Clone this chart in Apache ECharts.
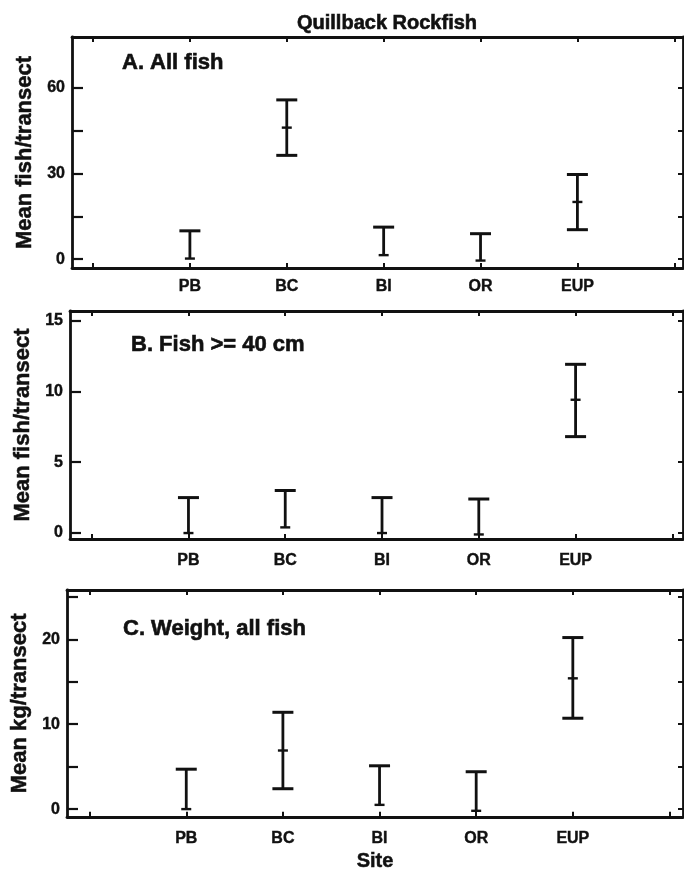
<!DOCTYPE html>
<html>
<head>
<meta charset="utf-8">
<script src="https://cdn.jsdelivr.net/npm/echarts@6/dist/echarts.min.js"></script>
<style>
  html, body { margin: 0; padding: 0; background: #fff; }
  #chart { width: 684px; height: 873px; }
</style>
</head>
<body>
<div id="chart"></div>
<script>
// sites along the x axis (positions 1..5)
const sites = ['PB', 'BC', 'BI', 'OR', 'EUP']

// A. All fish (mean fish/transect)
const allMean = [0.2, 46, 1.4, -0.5, 20]
const allLow = [0.2, 36.3, 1.4, -0.5, 10.3]
const allHigh = [9.9, 55.7, 11.2, 8.9, 29.6]

// B. Fish >= 40 cm (mean fish/transect)
const bigMean = [0, 0.4, 0, -0.1, 9.4]
const bigLow = [0, 0.4, 0, -0.1, 6.8]
const bigHigh = [2.5, 3.0, 2.5, 2.4, 11.9]

// C. Weight, all fish (mean kg/transect)
const wtMean = [0, 6.9, 0.5, -0.2, 15.4]
const wtLow = [0, 2.4, 0.5, -0.2, 10.7]
const wtHigh = [4.7, 11.4, 5.1, 4.4, 20.2]

// axis ticks / labels
const xTicks = [0, 1, 2, 3, 4, 5, 6]
const xLabels = [1, 2, 3, 4, 5]
const aTicks = [0, 15, 30, 45, 60]
const aLabels = [0, 30, 60]
const bTicks = [0, 5, 10, 15]
const bLabels = [0, 5, 10, 15]
const cTicks = [0, 5, 10, 15, 20, 25]
const cLabels = [0, 10, 20]

const FONT = 'Liberation Sans, Arial, sans-serif'
const INK = '#111'

function errorRender (params, api) {
  const x = api.value(0)
  const lowV = api.value(1)
  const meanV = api.value(2)
  const lo = api.coord([x, lowV])
  const mid = api.coord([x, meanV])
  const hi = api.coord([x, api.value(3)])
  const capW = 10.5
  const meanW = 5
  const line = (x1, y1, x2, y2, w) => ({
    type: 'line',
    shape: { x1: x1, y1: y1, x2: x2, y2: y2 },
    style: { stroke: INK, lineWidth: w }
  })
  const children = [
    line(hi[0], hi[1], lo[0], lo[1], 2.8),
    line(hi[0] - capW, hi[1], hi[0] + capW, hi[1], 3),
    line(mid[0] - meanW, mid[1], mid[0] + meanW, mid[1], 2.4)
  ]
  if (lowV < meanV) {
    children.push(line(lo[0] - capW, lo[1], lo[0] + capW, lo[1], 3))
  }
  return { type: 'group', children: children }
}

function rows (low, mean, high) {
  return sites.map((s, i) => [i + 1, low[i], mean[i], high[i]])
}

function xPair (gi, min, max, margin, withName) {
  const base = {
    gridIndex: gi,
    type: 'value',
    min: min,
    max: max,
    splitLine: { show: false },
    axisLine: { onZero: false, lineStyle: { color: INK, width: 2.8 } }
  }
  const bottom = Object.assign({}, base, {
    position: 'bottom',
    axisTick: { inside: true, length: 5, customValues: xTicks, lineStyle: { color: INK, width: 2 } },
    axisLabel: {
      customValues: xLabels,
      margin: margin,
      color: INK,
      fontFamily: FONT,
      fontWeight: 'bold',
      fontSize: 16,
      textBorderColor: INK,
      textBorderWidth: 0.4,
      formatter: v => sites[Math.round(v) - 1] || ''
    }
  })
  const top = Object.assign({}, base, {
    position: 'top',
    axisTick: { inside: true, length: 5, customValues: xTicks, lineStyle: { color: INK, width: 2 } },
    axisLabel: { show: false }
  })
  if (withName) {
    bottom.name = 'Site'
    bottom.nameLocation = 'middle'
    bottom.nameGap = 35
    bottom.nameTextStyle = { color: INK, fontFamily: FONT, fontWeight: 'bold', fontSize: 20, textBorderColor: INK, textBorderWidth: 0.5 }
  }
  return [bottom, top]
}

function yPair (gi, min, max, ticks, labels, name) {
  const base = {
    gridIndex: gi,
    type: 'value',
    min: min,
    max: max,
    splitLine: { show: false },
    axisLine: { show: true, onZero: false, lineStyle: { color: INK, width: 2.8 } }
  }
  const left = Object.assign({}, base, {
    position: 'left',
    name: name,
    nameLocation: 'middle',
    nameGap: 30,
    nameTextStyle: { color: INK, fontFamily: FONT, fontWeight: 'bold', fontSize: 22, textBorderColor: INK, textBorderWidth: 0.5 },
    axisTick: { inside: true, length: 11, customValues: ticks, lineStyle: { color: INK, width: 2.2 } },
    axisLabel: {
      customValues: labels,
      margin: 7,
      color: INK,
      fontFamily: FONT,
      fontWeight: 'bold',
      fontSize: 16,
      textBorderColor: INK,
      textBorderWidth: 0.4
    }
  })
  const right = Object.assign({}, base, {
    position: 'right',
    axisTick: { inside: true, length: 5, customValues: ticks, lineStyle: { color: INK, width: 2 } },
    axisLabel: { show: false }
  })
  return [left, right]
}

const chart = echarts.init(document.getElementById('chart'), null, { renderer: 'canvas' })

const heavy = { fill: INK, stroke: INK, lineWidth: 0.6, textVerticalAlign: 'middle' }

const option = {
  backgroundColor: '#fff',
  animation: false,
  grid: [
    { left: 72, top: 37, width: 611, height: 231 },
    { left: 70, top: 311, width: 613, height: 228 },
    { left: 67, top: 590, width: 616, height: 230 }
  ],
  xAxis: [
    ...xPair(0, -0.217, 6.09, 11, false),
    ...xPair(1, -0.224, 6.11, 14, false),
    ...xPair(2, -0.234, 6.14, 14, true)
  ],
  yAxis: [
    ...yPair(0, -3.1, 77.7, aTicks, aLabels, 'Mean fish/transect'),
    ...yPair(1, -0.42, 15.66, bTicks, bLabels, 'Mean fish/transect'),
    ...yPair(2, -0.9, 25.8, cTicks, cLabels, 'Mean kg/transect')
  ],
  series: [
    { type: 'custom', xAxisIndex: 0, yAxisIndex: 0, renderItem: errorRender, data: rows(allLow, allMean, allHigh), clip: false },
    { type: 'custom', xAxisIndex: 2, yAxisIndex: 2, renderItem: errorRender, data: rows(bigLow, bigMean, bigHigh), clip: false },
    { type: 'custom', xAxisIndex: 4, yAxisIndex: 4, renderItem: errorRender, data: rows(wtLow, wtMean, wtHigh), clip: false }
  ],
  graphic: [
    {
      type: 'text', x: 387, y: 23,
      style: Object.assign({ text: 'Quillback Rockfish', font: 'bold 20px ' + FONT, textAlign: 'center' }, heavy)
    },
    {
      type: 'text', x: 122, y: 63,
      style: Object.assign({ text: 'A. All fish', font: 'bold 22px ' + FONT, textAlign: 'left' }, heavy)
    },
    {
      type: 'text', x: 131, y: 345,
      style: Object.assign({ text: 'B. Fish >= 40 cm', font: 'bold 22px ' + FONT, textAlign: 'left' }, heavy)
    },
    {
      type: 'text', x: 123, y: 629,
      style: Object.assign({ text: 'C. Weight, all fish', font: 'bold 22px ' + FONT, textAlign: 'left' }, heavy)
    }
  ]
}

chart.setOption(option)
</script>
</body>
</html>
